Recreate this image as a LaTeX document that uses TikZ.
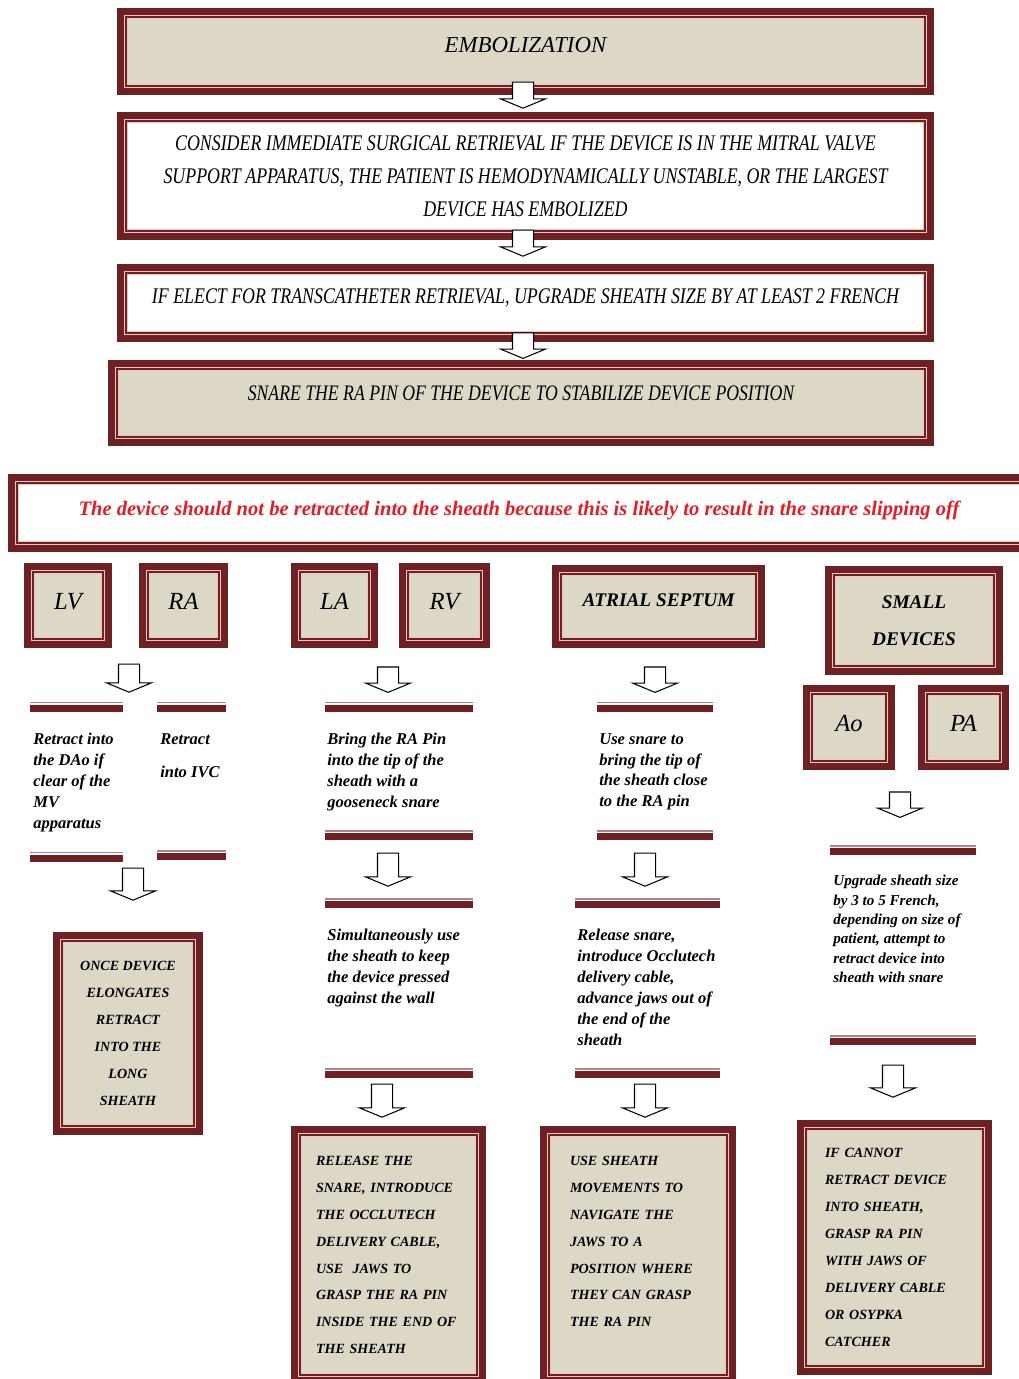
\documentclass[tikz,border=0pt]{standalone}
\usepackage{fontspec}
\setmainfont{Liberation Serif}
\newfontfamily\narrowserif[FakeStretch=0.8]{Liberation Serif}
\usepackage{tikz}
\usetikzlibrary{shapes}
\usetikzlibrary{shapes.arrows}
\usetikzlibrary{calc}
\usepackage{color}
\definecolor{maroon}{RGB}{110,32,34}
\definecolor{paper}{RGB}{221,216,198}
\definecolor{blush}{RGB}{232,200,190}
\definecolor{warning}{RGB}{226,30,36}
% inner rule of a framed panel: inset, colour, width
\newcommand{\panelline}[3]{\draw[#2, line width=#3] ([shift={(#1,#1)}]path picture bounding box.south west) rectangle ([shift={(-#1,-#1)}]path picture bounding box.north east);}

\begin{document}
\begin{tikzpicture}
			\tikzstyle{panel}=[rectangle, draw=maroon, line width=4pt, fill=paper, inner sep=0pt, path picture={\panelline{2.4pt}{blush}{0.8pt}\panelline{3.2pt}{maroon}{0.8pt}\panelline{3.9pt}{blush}{0.6pt}}]
			\tikzstyle{whitepanel}=[panel, fill=white]
			\tikzstyle{chamber}=[panel, minimum height=1.56cm, text depth=0.18cm, font=\itshape\fontsize{14}{16}\selectfont]
			\tikzstyle{caps}=[font=\bfseries\itshape\fontsize{8}{15.3}\selectfont]
			\tikzstyle{divider}=[rectangle, inner sep=0pt, minimum height=0.2cm, path picture={\fill[maroon] (path picture bounding box.south west) rectangle ([yshift=-0.06cm]path picture bounding box.north east); \fill[maroon!55] ([yshift=-0.03cm]path picture bounding box.north west) rectangle (path picture bounding box.north east);}]
			\tikzstyle{notes}=[anchor=north west, inner sep=0pt, align=left, font=\bfseries\itshape\fontsize{9.4}{11.9}\selectfont]
			\tikzstyle{hollowarrow}=[single arrow, draw=black, fill=white, line width=0.6pt, inner sep=0.2cm, shape border rotate=270, single arrow head extend=0.24cm, single arrow tip angle=135]
			\useasboundingbox (0, 0) rectangle (20.36, -27.58);

			% main flow
			\node[panel, minimum width=16.2cm, minimum height=1.6cm, text depth=0.26cm, font=\itshape\fontsize{13}{15}\selectfont] at (10.51, -1.03) (embolization) {EMBOLIZATION};
			\node[whitepanel, minimum width=16.2cm, minimum height=2.42cm, align=center, font=\narrowserif\itshape\fontsize{12.7}{18.7}\selectfont] at (10.51, -3.52) (surgicalRetrieval) {CONSIDER IMMEDIATE SURGICAL RETRIEVAL IF THE DEVICE IS IN THE MITRAL VALVE\\SUPPORT APPARATUS, THE PATIENT IS HEMODYNAMICALLY UNSTABLE, OR THE LARGEST\\DEVICE HAS EMBOLIZED};
			\node[whitepanel, minimum width=16.2cm, minimum height=1.42cm, text depth=0.26cm, font=\narrowserif\itshape\fontsize{12.7}{15}\selectfont] at (10.51, -6.06) (transcatheter) {IF ELECT FOR TRANSCATHETER RETRIEVAL, UPGRADE SHEATH SIZE BY AT LEAST 2 FRENCH};
			\node[panel, minimum width=16.38cm, minimum height=1.58cm, text depth=0.38cm, font=\narrowserif\itshape\fontsize{12.6}{15}\selectfont] at (10.42, -8.06) (snarePin) {SNARE THE RA PIN OF THE DEVICE TO STABILIZE DEVICE POSITION};
			\node[hollowarrow, minimum height=0.52cm] at (10.46, -1.86) (stepOneArrow) {};
			\node[hollowarrow, minimum height=0.52cm] at (10.46, -4.82) (stepTwoArrow) {};
			\node[hollowarrow, minimum height=0.46cm] at (10.46, -6.87) (stepThreeArrow) {};

			\node[whitepanel, minimum width=20.3cm, minimum height=1.42cm, text depth=0.18cm, text=warning, font=\bfseries\itshape\fontsize{11.7}{13}\selectfont] at (10.38, -10.26) (slipWarning) {The device should not be retracted into the sheath because this is likely to result in the snare slipping off};

			% locations
			\node[chamber, minimum width=1.62cm] at (1.36, -12.11) (lv) {LV};
			\node[chamber, minimum width=1.64cm] at (3.67, -12.11) (ra) {RA};
			\node[chamber, minimum width=1.60cm] at (6.69, -12.11) (la) {LA};
			\node[chamber, minimum width=1.68cm] at (8.89, -12.11) (rv) {RV};
			\node[panel, minimum width=4.12cm, minimum height=1.52cm, text depth=0.26cm, font=\bfseries\itshape\fontsize{11}{13}\selectfont] at (13.17, -12.13) (atrialSeptum) {ATRIAL SEPTUM};
			\node[panel, minimum width=3.42cm, minimum height=2.04cm, align=center, font=\bfseries\itshape\fontsize{11}{21}\selectfont] at (18.28, -12.41) (smallDevices) {SMALL\\DEVICES};
			\node[chamber, minimum width=1.70cm] at (16.98, -14.55) (ao) {Ao};
			\node[chamber, minimum width=1.68cm] at (19.27, -14.55) (pa) {PA};

			% LV and RA
			\node[hollowarrow, minimum height=0.56cm] at (2.58, -13.52) (lvArrow) {};
			\node[divider, minimum width=1.86cm] at (1.53, -14.13) (lvRuleTop) {};
			\node[divider, minimum width=1.38cm] at (3.83, -14.13) (raRuleTop) {};
			\node[notes] at (0.66, -14.66) (lvNote) {Retract into\\the DAo if\\clear of the\\MV\\apparatus};
			\node[notes] at (3.20, -14.66) (raNote) {Retract\\[7pt]into IVC};
			\node[divider, minimum width=1.86cm] at (1.53, -17.13) (lvRuleBottom) {};
			\node[divider, minimum width=1.38cm] at (3.83, -17.10) (raRuleBottom) {};
			\node[hollowarrow, minimum height=0.64cm] at (2.66, -17.64) (lvArrowLow) {};
			\node[panel, minimum width=2.86cm, minimum height=3.92cm, align=center, caps] at (2.56, -20.67) (longSheath) {ONCE DEVICE\\ELONGATES\\RETRACT\\INTO THE\\LONG\\SHEATH};

			% LA and RV
			\node[hollowarrow, minimum height=0.50cm] at (7.76, -13.55) (laArrow) {};
			\node[divider, minimum width=2.96cm] at (7.98, -14.13) (laRuleTop) {};
			\node[notes] at (6.54, -14.66) (laNote) {Bring the RA Pin\\into the tip of the\\sheath with a\\gooseneck snare};
			\node[divider, minimum width=2.96cm] at (7.98, -16.70) (laRuleMid) {};
			\node[hollowarrow, minimum height=0.66cm] at (7.76, -17.35) (laArrowLow) {};
			\node[divider, minimum width=2.96cm] at (7.98, -18.06) (laRuleLow) {};
			\node[notes] at (6.54, -18.58) (laNoteLow) {Simultaneously use\\the sheath to keep\\the device pressed\\against the wall};
			\node[divider, minimum width=2.96cm] at (7.98, -21.46) (laRuleEnd) {};
			\node[hollowarrow, minimum height=0.66cm] at (7.64, -21.97) (laArrowEnd) {};
			\node[panel, minimum width=3.76cm, minimum height=5.02cm, text width=2.9cm, align=left, caps] at (7.77, -25.10) (releaseJaws) {RELEASE THE\\SNARE, INTRODUCE\\THE OCCLUTECH\\DELIVERY CABLE,\\USE~ JAWS TO\\GRASP THE RA PIN\\INSIDE THE END OF\\THE SHEATH};

			% atrial septum
			\node[hollowarrow, minimum height=0.50cm] at (13.10, -13.55) (asArrow) {};
			\node[divider, minimum width=2.32cm] at (13.10, -14.13) (asRuleTop) {};
			\node[notes] at (11.98, -14.66) (asNote) {Use snare to\\bring the tip of\\the sheath close\\to the RA pin};
			\node[divider, minimum width=2.32cm] at (13.10, -16.70) (asRuleMid) {};
			\node[hollowarrow, minimum height=0.66cm] at (12.90, -17.35) (asArrowLow) {};
			\node[divider, minimum width=2.90cm] at (12.95, -18.06) (asRuleLow) {};
			\node[notes] at (11.54, -18.58) (asNoteLow) {Release snare,\\introduce Occlutech\\delivery cable,\\advance jaws out of\\the end of the\\sheath};
			\node[divider, minimum width=2.90cm] at (12.95, -21.46) (asRuleEnd) {};
			\node[hollowarrow, minimum height=0.66cm] at (12.90, -21.97) (asArrowEnd) {};
			\node[panel, minimum width=3.78cm, minimum height=5.02cm, text width=2.72cm, align=left, caps] at (12.76, -25.10) (sheathMoves) {USE SHEATH\\MOVEMENTS TO\\NAVIGATE THE\\JAWS TO A\\POSITION WHERE\\THEY CAN GRASP\\THE RA PIN\\~};

			% small devices
			\node[hollowarrow, minimum height=0.50cm] at (18.00, -16.05) (sdArrow) {};
			\node[divider, minimum width=2.92cm] at (18.06, -17.00) (sdRuleTop) {};
			\node[notes, font=\bfseries\itshape\fontsize{8.6}{11}\selectfont] at (16.66, -17.50) (sdNote) {Upgrade sheath size\\by 3 to 5 French,\\depending on size of\\patient, attempt to\\retract device into\\sheath with snare};
			\node[divider, minimum width=2.92cm] at (18.06, -20.80) (sdRuleEnd) {};
			\node[hollowarrow, minimum height=0.64cm] at (17.86, -21.58) (sdArrowEnd) {};
			\node[panel, minimum width=3.76cm, minimum height=4.96cm, text width=2.78cm, align=left, caps] at (17.89, -24.95) (osypkaCatcher) {IF CANNOT\\RETRACT DEVICE\\INTO SHEATH,\\GRASP RA PIN\\WITH JAWS OF\\DELIVERY CABLE\\OR OSYPKA\\CATCHER};
		\end{tikzpicture}
\end{document}
